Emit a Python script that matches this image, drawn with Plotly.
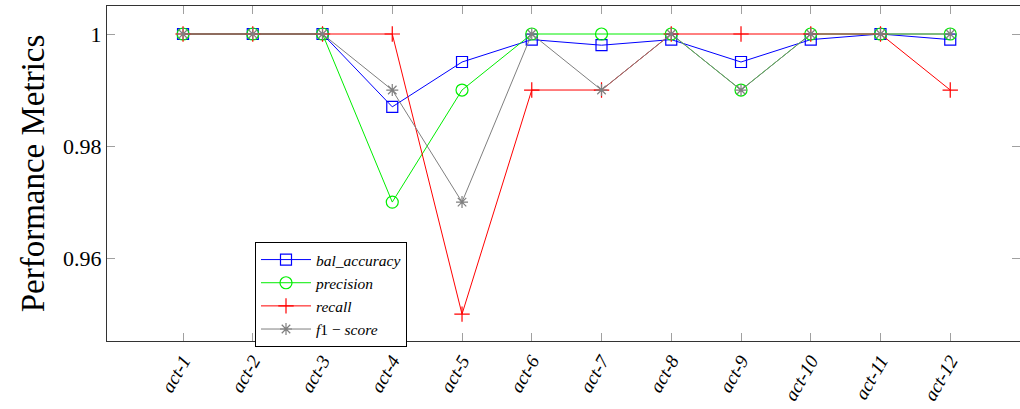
import plotly.graph_objects as go

# Per-activity performance metrics
activities = ["act-1", "act-2", "act-3", "act-4", "act-5", "act-6",
              "act-7", "act-8", "act-9", "act-10", "act-11", "act-12"]
bal_accuracy = [1.0, 1.0, 1.0, 0.987, 0.995, 0.999, 0.998, 0.999, 0.995, 0.999, 1.0, 0.999]
precision = [1.0, 1.0, 1.0, 0.970, 0.990, 1.0, 1.0, 1.0, 0.990, 1.0, 1.0, 1.0]
recall = [1.0, 1.0, 1.0, 1.0, 0.950, 0.990, 0.990, 1.0, 1.0, 1.0, 1.0, 0.990]
f1_score = [1.0, 1.0, 1.0, 0.990, 0.970, 1.0, 0.990, 1.0, 0.990, 1.0, 1.0, 1.0]

y_ticks = [0.96, 0.98, 1.0]
y_tick_labels = ["0.96", "0.98", "1"]

xs = list(range(len(activities)))
serif = "Liberation Serif"

series = [
    ("<i>bal_accuracy</i>", bal_accuracy, "#0000ff", "square-open", 11),
    ("<i>precision</i>", precision, "#00ee00", "circle-open", 12),
    ("<i>recall</i>", recall, "#ff0000", "cross-thin-open", 11),
    ("<i>f</i>1 − <i>score</i>", f1_score, "#7f7f7f", "asterisk-open", 10),
]

fig = go.Figure()
for name, vals, color, symbol, size in series:
    fig.add_trace(go.Scatter(
        x=xs, y=vals, name=name, mode="lines+markers",
        line=dict(color=color, width=1),
        marker=dict(symbol=symbol, size=size, color=color,
                    line=dict(color=color, width=1.2)),
    ))

fig.update_layout(
    width=1020, height=409,
    margin=dict(l=107, r=0, t=6, b=68),
    paper_bgcolor="white", plot_bgcolor="white",
    font=dict(family=serif, color="black"),
    showlegend=True,
    legend=dict(
        x=(255 - 107) / 913, y=(341 - 242) / 335,
        xanchor="left", yanchor="top",
        bordercolor="black", borderwidth=1, bgcolor="white",
        font=dict(family=serif, size=15.5),
        itemwidth=50, tracegroupgap=0,
    ),
)

fig.update_xaxes(
    range=[-1.09, 12.0],
    tickvals=xs, ticktext=[f"<i>{a}</i>" for a in activities],
    tickangle=-60, tickfont=dict(family=serif, size=19),
    ticks="inside", ticklen=8, tickcolor="#a0a0a0", tickwidth=1.3,
    showline=True, linecolor="#333333", linewidth=1.3, mirror="ticks",
    showgrid=False, zeroline=False,
)
fig.update_yaxes(
    range=[0.9452, 1.005],
    tickvals=y_ticks, ticktext=y_tick_labels,
    tickfont=dict(family=serif, size=22),
    ticks="inside", ticklen=8, tickcolor="#a0a0a0", tickwidth=1.3,
    showline=True, linecolor="#333333", linewidth=1.3, mirror="ticks",
    showgrid=False, zeroline=False,
    title=dict(text="Performance Metrics", font=dict(family=serif, size=33), standoff=8),
)

fig.write_html("out.html")
